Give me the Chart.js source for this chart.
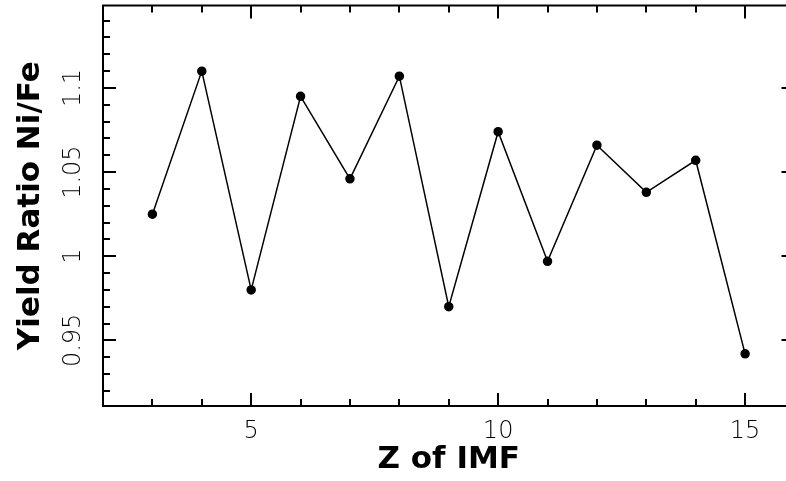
<!DOCTYPE html>
<html>
<head>
<meta charset="utf-8">
<script src="https://cdn.jsdelivr.net/npm/chart.js@4.4.0/dist/chart.umd.min.js"></script>
<style>
  html, body { margin: 0; padding: 0; background: #fff; overflow: hidden; }
  #wrap { width: 786px; height: 481px; overflow: hidden; }
  canvas { display: block; }
</style>
</head>
<body>
<div id="wrap"><canvas id="ratioChart" width="800" height="481"></canvas></div>
<script>
// Z of the IMF vs. Ni/Fe yield ratio
const zValues = [3, 4, 5, 6, 7, 8, 9, 10, 11, 12, 13, 14, 15];
const yieldRatio = [1.025, 1.110, 0.980, 1.095, 1.046, 1.107, 0.970, 1.074, 0.997, 1.066, 1.038, 1.057, 0.942];

// axis ranges and tick steps
const xRange = [2, 16];
const yRange = [0.911, 1.149];
const xMajorStep = 5;
const xMinorStep = 1;
const yMajorStep = 0.05;
const yMinorStep = 0.01;

const tickFont = { family: "'DejaVu Sans', sans-serif", size: 24, weight: 200 };
const titleFont = { family: "'DejaVu Sans', sans-serif", size: 31, weight: 'bold' };

// box around the plot with inward tick marks on every side
const frameTicks = {
    id: 'frameTicks',
    afterDraw(chart) {
        const { ctx, chartArea: a, scales: { x, y } } = chart;
        ctx.save();
        ctx.strokeStyle = '#000';
        ctx.lineWidth = 2;
        ctx.strokeRect(a.left, a.top, a.right - a.left, a.bottom - a.top);

        ctx.beginPath();
        for (let v = Math.ceil(xRange[0]); v <= xRange[1]; v += xMinorStep) {
            const px = Math.round(x.getPixelForValue(v));
            const len = v % xMajorStep === 0 ? 13 : 7;
            ctx.moveTo(px, a.bottom); ctx.lineTo(px, a.bottom - len);
            ctx.moveTo(px, a.top); ctx.lineTo(px, a.top + len);
        }
        const per = Math.round(yMajorStep / yMinorStep);
        const n0 = Math.ceil(yRange[0] / yMinorStep);
        const n1 = Math.floor(yRange[1] / yMinorStep);
        for (let n = n0; n <= n1; n++) {
            const py = Math.round(y.getPixelForValue(n * yMinorStep));
            const len = n % per === 0 ? 13 : 7;
            ctx.moveTo(a.left, py); ctx.lineTo(a.left + len, py);
            ctx.moveTo(a.right, py); ctx.lineTo(a.right - len, py);
        }
        ctx.stroke();
        ctx.restore();
    }
};

// keep label overhang from shrinking the plot area
function noPadding(scale) {
    scale.paddingTop = 0;
    scale.paddingBottom = 0;
    scale.paddingLeft = 0;
    scale.paddingRight = 0;
}

new Chart(document.getElementById('ratioChart'), {
    type: 'line',
    data: {
        datasets: [{
            data: zValues.map((z, i) => ({ x: z, y: yieldRatio[i] })),
            borderColor: '#000',
            borderWidth: 1.5,
            pointRadius: 4,
            pointBackgroundColor: '#000',
            pointBorderColor: '#000',
            tension: 0
        }]
    },
    options: {
        responsive: false,
        animation: false,
        // canvas is a bit wider than the window so the right frame edge is cut off
        layout: { padding: { top: 3, right: 5, bottom: 0, left: 0 } },
        plugins: {
            legend: { display: false },
            tooltip: { enabled: false }
        },
        scales: {
            x: {
                type: 'linear',
                min: xRange[0],
                max: xRange[1],
                grid: { display: false, drawTicks: false },
                border: { display: false },
                ticks: {
                    stepSize: xMajorStep,
                    includeBounds: false,
                    color: '#000',
                    font: tickFont,
                    padding: 11,
                    maxRotation: 0
                },
                title: {
                    display: true,
                    text: 'Z of IMF',
                    color: '#000',
                    font: titleFont,
                    padding: { top: 0, bottom: 2 }
                },
                afterFit(scale) {
                    scale.height = 75;
                    noPadding(scale);
                }
            },
            y: {
                min: yRange[0],
                max: yRange[1],
                grid: { display: false, drawTicks: false },
                border: { display: false },
                ticks: {
                    stepSize: yMajorStep,
                    includeBounds: false,
                    color: '#000',
                    font: tickFont,
                    padding: 3,
                    minRotation: 90,
                    maxRotation: 90,
                    crossAlign: 'center',
                    callback: v => String(Number(v.toFixed(2)))
                },
                title: {
                    display: true,
                    text: 'Yield Ratio Ni/Fe',
                    color: '#000',
                    font: titleFont,
                    padding: { top: 12, bottom: 0 }
                },
                afterFit(scale) {
                    scale.width = 103;
                    noPadding(scale);
                }
            }
        }
    },
    plugins: [frameTicks]
});
</script>
</body>
</html>
